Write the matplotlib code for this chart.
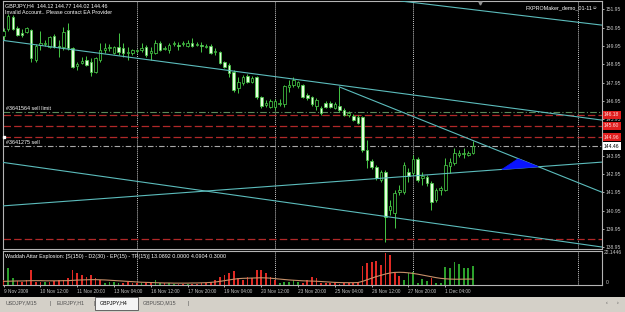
import matplotlib
matplotlib.use("Agg")
import matplotlib.pyplot as plt
import matplotlib.transforms as mtransforms
from matplotlib.patches import Polygon, Rectangle

plt.rcParams["font.family"] = ["Liberation Sans", "DejaVu Sans"]

W, H = 625, 312

# ----------------------
# GBPJPY H4 bars, first one = 9 Nov 2009 04:00
# ----------------------
opens = [150.49, 150.88, 151.53, 150.93, 150.66, 150.71, 150.82, 149.18, 150.00, 150.06,
         149.89, 150.49, 149.95, 149.89, 150.82, 149.84, 148.85, 149.02, 149.18, 149.07,
         148.53, 149.18, 149.73, 149.84, 149.56, 149.89, 149.84, 149.56, 149.56, 149.67,
         149.73, 149.89, 149.56, 149.56, 150.11, 149.78, 149.73, 150.06, 150.00, 150.06,
         149.95, 150.11, 150.00, 150.00, 149.89, 149.95, 149.62, 149.62, 149.07, 148.91,
         148.53, 147.65, 147.93, 148.31, 147.98, 148.25, 147.16, 146.72, 146.61, 146.61,
         146.78, 146.78, 147.71, 147.82, 147.76, 147.82, 147.27, 147.16, 146.67, 146.56,
         146.83, 146.83, 146.56, 146.67, 146.45, 146.18, 146.12, 146.07, 146.07, 144.26,
         143.66, 143.33, 142.62, 143.06, 140.99, 140.82, 141.97, 141.97, 143.06, 143.01,
         143.77, 142.73, 142.79, 142.46, 141.53, 142.08, 142.08, 143.39, 143.55, 143.99,
         144.05, 143.99, 144.12]
highs = [150.93, 151.69, 151.64, 151.04, 150.88, 150.99, 150.88, 150.06, 150.77, 150.27,
         150.49, 150.60, 150.27, 150.99, 151.20, 149.89, 149.07, 149.35, 149.40, 149.29,
         149.35, 150.11, 150.11, 150.06, 149.95, 150.66, 150.11, 149.89, 149.78, 149.78,
         150.11, 150.00, 149.89, 150.27, 150.22, 149.95, 150.11, 150.22, 150.17, 150.22,
         150.27, 150.38, 150.17, 150.17, 150.06, 150.06, 149.84, 149.67, 149.13, 149.02,
         148.64, 148.25, 148.36, 148.42, 148.31, 148.31, 147.21, 147.00, 147.05, 147.05,
         147.05, 147.82, 148.09, 148.25, 148.03, 147.87, 147.38, 147.21, 147.11, 146.67,
         146.94, 146.94, 146.89, 147.71, 146.56, 146.39, 146.23, 146.18, 146.12, 144.81,
         143.77, 143.44, 143.17, 143.17, 141.53, 142.08, 142.35, 143.61, 143.28, 143.99,
         143.88, 143.06, 142.90, 142.57, 142.19, 142.30, 143.83, 143.83, 144.37, 144.26,
         144.37, 144.21, 144.77]
lows = [150.27, 150.77, 150.82, 150.49, 150.44, 150.66, 149.07, 149.07, 149.73, 149.95,
        149.84, 149.84, 149.35, 149.73, 149.73, 148.74, 148.64, 148.96, 148.85, 148.31,
        148.47, 149.07, 149.56, 149.67, 149.51, 149.45, 149.35, 149.18, 149.45, 149.56,
        149.62, 149.35, 149.18, 149.51, 149.67, 149.73, 149.56, 149.95, 149.73, 149.95,
        149.89, 149.89, 149.95, 149.62, 149.84, 149.51, 149.45, 148.96, 148.74, 148.25,
        147.43, 147.38, 147.82, 147.93, 147.93, 147.05, 146.56, 146.61, 146.56, 146.45,
        146.67, 146.61, 147.43, 147.71, 147.65, 147.11, 147.00, 146.67, 146.45, 146.18,
        146.56, 146.56, 146.50, 146.34, 146.12, 146.07, 145.85, 145.68, 144.15, 143.28,
        143.23, 142.62, 142.52, 139.24, 140.71, 140.00, 141.80, 141.86, 142.52, 142.90,
        142.52, 142.35, 142.30, 140.99, 141.42, 141.80, 142.02, 143.01, 143.44, 143.88,
        143.83, 143.94, 144.02]
closes = [150.77, 151.59, 150.88, 150.55, 150.55, 150.93, 149.29, 149.95, 150.11, 150.11,
          150.44, 149.89, 149.89, 150.71, 149.84, 148.80, 148.96, 149.13, 148.91, 148.53,
          149.29, 149.73, 149.84, 149.89, 149.89, 149.62, 149.56, 149.62, 149.73, 149.73,
          149.84, 149.45, 149.67, 150.11, 149.73, 149.84, 150.00, 150.11, 149.95, 150.11,
          150.11, 149.95, 150.06, 149.95, 149.95, 149.56, 149.67, 149.02, 148.80, 148.47,
          147.54, 147.98, 148.25, 147.98, 148.20, 147.16, 146.67, 146.83, 146.94, 146.94,
          146.83, 147.76, 147.82, 148.09, 147.98, 147.16, 147.11, 146.78, 147.00, 146.29,
          146.61, 146.61, 146.78, 146.45, 146.18, 146.29, 145.90, 145.74, 144.26, 143.72,
          143.33, 142.73, 143.06, 140.60, 141.20, 141.91, 142.08, 143.44, 142.84, 143.77,
          142.62, 142.84, 142.46, 141.42, 142.08, 142.19, 143.44, 143.61, 144.10, 144.10,
          144.10, 144.10, 144.46]

# Waddah Attar Explosion buffers (green = up, red = down) and explosion line
wae_up = [0, 11.5, 4.6, 0, 0, 0, 0, 0, 0, 2.3,
          0, 0, 0, 0, 0, 0, 0, 0, 0, 0,
          0, 0, 1.6, 1.8, 1.8, 1.2, 0, 0, 0, 0,
          1.2, 0, 0, 3.5, 1.6, 0, 1.2, 0.7, 0, 0,
          0.7, 0, 0, 0, 0, 0, 0, 0, 0, 0,
          0, 0, 0, 0, 0, 0, 0, 0, 0, 0,
          1.6, 2.3, 2.3, 3.5, 2.3, 0, 0, 0, 0, 0,
          0, 0, 0, 0, 0, 0, 0, 0, 0, 0,
          0, 0, 0, 0, 0, 0, 0, 3.5, 8.0, 9.2,
          1.2, 3.9, 2.8, 0, 1.6, 1.2, 12.7, 12.0, 16.0, 14.5,
          12.0, 11.5, 13.0892]
wae_down = [3.5, 0, 0, 3.0, 2.3, 3.5, 10.4, 2.3, 2.3, 0,
            2.3, 3.0, 3.5, 3.5, 4.6, 10.4, 8.1, 6.9, 5.8, 6.9,
            4.6, 3.5, 0, 0, 0, 0, 1.2, 2.3, 1.6, 1.2,
            0, 1.2, 1.6, 0, 0, 1.2, 0, 0, 0.7, 0.7,
            0, 0.7, 0.7, 1.6, 1.6, 2.3, 3.5, 5.8, 6.9, 8.0,
            10.0, 4.6, 3.5, 5.8, 4.6, 10.4, 10.4, 8.1, 5.8, 3.5,
            0, 0, 0, 0, 0, 1.2, 3.5, 5.8, 4.6, 1.5,
            1.5, 1.2, 1.2, 1.0, 1.2, 1.2, 1.5, 1.8, 13.1, 15.4,
            16.0, 16.8, 13.8, 22.1446, 20.7, 8.0, 6.2, 0, 0, 0,
            0, 0, 0, 4.6, 0, 0, 0, 0, 0, 0,
            0, 0, 0]
wae_line = [2.5, 2.6, 2.7, 2.8, 2.8, 2.9, 3.0, 3.0, 3.0, 2.9,
            2.9, 2.9, 2.9, 3.0, 3.0, 3.2, 3.4, 3.5, 3.6, 3.7,
            3.7, 3.6, 3.5, 3.3, 3.1, 2.9, 2.7, 2.5, 2.3, 2.1,
            1.9, 1.8, 1.7, 1.6, 1.5, 1.4, 1.4, 1.3, 1.3, 1.3,
            1.3, 1.4, 1.4, 1.5, 1.6, 1.8, 2.1, 2.5, 3.0, 3.5,
            4.0, 4.4, 4.6, 4.7, 4.8, 4.9, 5.0, 4.9, 4.7, 4.4,
            4.1, 3.8, 3.5, 3.3, 3.1, 2.9, 2.8, 2.7, 2.6, 2.4,
            2.2, 2.0, 1.8, 1.7, 1.6, 1.6, 1.6, 1.7, 2.5, 3.6,
            4.7, 5.8, 6.7, 7.6, 8.3, 8.7, 8.8, 8.7, 8.4, 8.0,
            7.5, 6.9, 6.3, 5.7, 5.1, 4.6, 4.3, 4.1, 4.0, 4.0,
            4.05, 4.1, 4.0904]

# axis labels
price_ticks = [138.95, 139.95, 140.95, 141.95, 142.95, 143.95, 144.95,
               145.95, 146.95, 147.95, 148.95, 149.95, 150.95, 151.95]
time_bars = [0, 8, 16, 24, 32, 40, 48, 56, 64, 72, 80, 88, 96]
time_labels = ["9 Nov 2009", "10 Nov 12:00", "11 Nov 20:00", "13 Nov 04:00",
               "16 Nov 12:00", "17 Nov 20:00", "19 Nov 04:00", "20 Nov 12:00",
               "23 Nov 20:00", "25 Nov 04:00", "26 Nov 12:00", "27 Nov 20:00",
               "1 Dec 04:00"]
separator_bars = [28.9, 58.9, 88.9, 124.9]

# order lines and their price tags
sell_limit_price = 146.33
sell_price = 144.46
red_levels = [146.18, 145.60, 144.96, 139.40]
red_tags = ["146.18", "145.60", "144.96", None]

# trend lines: (bar, price) anchor pairs; infinite ones and one ray from the 25 Nov high
trend_lines = [
    ((0, 150.25), (130, 145.90)),
    ((88.3, 152.35), (130.1, 151.09)),
    ((0, 141.21), (130, 143.60)),
    ((0, 143.58), (130, 138.96)),
]
ray_bars = [73, 131]
ray_prices = [147.71, 141.86]
triangle_pts = [(108.3, 143.20), (111.8, 143.78), (116.2, 143.35)]

# ----------------------
# figure
# ----------------------
fig = plt.figure(figsize=(W / 100, H / 100), dpi=100, facecolor="black")

ax = fig.add_axes([3 / W, 1 - 249 / H, 598.7 / W, 248 / H], facecolor="black")
axi = fig.add_axes([3 / W, 1 - 285 / H, 598.7 / W, 34 / H], facecolor="black")
tab = fig.add_axes([0, 0, 1, 15.5 / H], facecolor="#d4d0c8")

for a in (ax, axi):
    a.set_xlim(-0.13, 130.0)
    for s in a.spines.values():
        s.set_color("#b4b4b4")
        s.set_linewidth(0.8)

ax.set_ylim(138.85, 152.41)
axi.set_ylim(0, 23.5)

# ----------------------
# candles
# ----------------------
up_c = "#46c846"
xs = list(range(len(opens)))
ax.vlines(xs, lows, highs, color=up_c, lw=0.7, zorder=3)
bot = [min(o, c) for o, c in zip(opens, closes)]
hgt = [max(abs(c - o), 0.015) for o, c in zip(opens, closes)]
fills = ["black" if c >= o else "#e4ffdc" for o, c in zip(opens, closes)]
ax.bar(xs, hgt, bottom=bot, width=0.55, color=fills, edgecolor=up_c,
       linewidth=0.55, zorder=4)

# ----------------------
# horizontal order lines
# ----------------------
ax.axhline(sell_limit_price, color="#5a8a5a", lw=0.8, dashes=(6, 2, 1, 2), zorder=2)
ax.axhline(sell_price, color="#a8a8a8", lw=0.8, dashes=(5, 2, 1, 2), zorder=2)
for lv in red_levels:
    ax.axhline(lv, color="#b02828", lw=0.9, dashes=(6, 2.5), zorder=2)

# ----------------------
# trend lines + triangle
# ----------------------
for p0, p1 in trend_lines:
    ax.axline(p0, p1, color="#5cbcbc", lw=0.8, zorder=5)
ax.plot(ray_bars, ray_prices, color="#5cbcbc", lw=0.8, zorder=5)
ax.add_patch(Polygon(triangle_pts, closed=True, fc="#0a14ff", ec="#0a14ff", lw=0.5, zorder=5))

ax.plot([0], [144.99], marker="s", ms=1.6, color="white", clip_on=False, zorder=6)
ax.plot([103.6], [152.28], marker="v", ms=2.2, color="#909090", zorder=6)

# period separators
for a in (ax, axi):
    for b in separator_bars:
        a.axvline(b, color="#c8c8c8", lw=0.7, ls=(0, (1, 1)), zorder=1)

# ----------------------
# price scale
# ----------------------
ax.yaxis.tick_right()
ax.set_yticks(price_ticks)
ax.set_yticklabels([f"{p:.2f}" for p in price_ticks])
ax.tick_params(axis="y", colors="#c8c8c8", labelsize=3.6, length=1.6, width=0.6, pad=1.2)
ax.tick_params(axis="x", bottom=False, labelbottom=False)

tr = mtransforms.blended_transform_factory(ax.transAxes, ax.transData)
for lv, tag in zip(red_levels, red_tags):
    if tag:
        ax.text(1.004, lv, tag, transform=tr, ha="left", va="center", fontsize=3.6,
                color="#ffd8d8", zorder=10, clip_on=False,
                bbox=dict(boxstyle="square,pad=0.3", fc="#e01e1e", ec="none"))
ax.text(1.004, sell_price, "144.46", transform=tr, ha="left", va="center", fontsize=3.6,
        color="black", zorder=10, clip_on=False,
        bbox=dict(boxstyle="square,pad=0.3", fc="white", ec="none"))

# ----------------------
# indicator panel
# ----------------------
axi.bar(xs, wae_up, width=0.38, color="#2ca02c", zorder=3)
axi.bar(xs, wae_down, width=0.38, color="#e02a24", zorder=3)
axi.plot(xs, wae_line, color="#c8916a", lw=0.8, zorder=4)

axi.set_yticks([])
tri = mtransforms.blended_transform_factory(axi.transAxes, axi.transData)
axi.text(1.004, 22.1446, "22.1446", transform=tri, ha="left", va="center",
         fontsize=3.6, color="#c8c8c8", clip_on=False)
axi.text(1.006, 0.3, "0", transform=tri, ha="left", va="bottom",
         fontsize=3.6, color="#c8c8c8", clip_on=False)

axi.set_xticks(time_bars)
axi.set_xticklabels(time_labels)
for t in axi.get_xticklabels():
    t.set_ha("left")
axi.tick_params(axis="x", colors="#c8c8c8", labelsize=3.4, length=1.6, width=0.6, pad=1.0)

# ----------------------
# overlay texts
# ----------------------
txt = dict(color="white", fontsize=3.9, va="center", ha="left")
fig.text(5 / W, 1 - 5.5 / H, "GBPJPY,H4  144.12 144.77 144.02 144.46", **txt)
fig.text(5 / W, 1 - 12 / H, "Invalid Account.. Please contact EA Provider", **txt)
fig.text(525 / W, 1 - 7.5 / H, "FXPROMaker_demo_01-11", **txt)
fig.text(592 / W, 1 - 7.5 / H, "\u263a", **txt)
fig.text(6 / W, 1 - 109 / H, "#3641564 sell limit", **txt)
fig.text(6 / W, 1 - 143 / H, "#3641275 sell", **txt)
fig.text(5 / W, 1 - 256.5 / H,
         "Waddah Attar Explosion: [S(150) - D2(30) - EP(15) - TP(15)] 13.0892 0.0000 4.0904 0.3000",
         **txt)

# ----------------------
# tab bar
# ----------------------
tab.set_xlim(0, W)
tab.set_ylim(15.5, 0)
tab.set_xticks([])
tab.set_yticks([])
for s in tab.spines.values():
    s.set_visible(False)
tab.add_patch(Rectangle((95, 0.5), 43, 12.5, fc="#f4f4f4", ec="#505050", lw=0.6))
tab_txt = dict(fontsize=3.8, va="center", ha="left", color="#505050")
for x, s in [(6, "USDJPY,M15"), (50, "|"), (57, "EURJPY,H1"), (93, "|"),
             (143, "GBPUSD,M15"), (187, "|")]:
    tab.text(x, 6.5, s, **tab_txt)
tab.text(100, 6.5, "GBPJPY,H4", fontsize=3.8, va="center", ha="left", color="black")
tab.text(606, 6.5, "\u2039", **tab_txt)
tab.text(617, 6.5, "\u203a", **tab_txt)

plt.savefig("out.png", dpi=100, facecolor="black")
plt.close()
